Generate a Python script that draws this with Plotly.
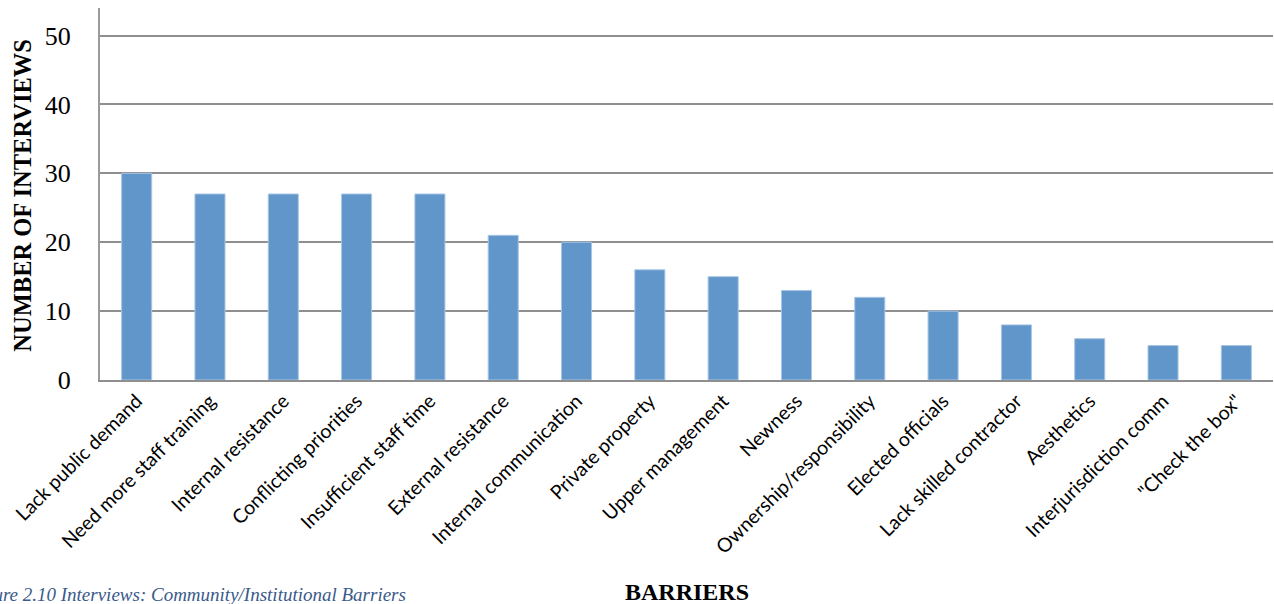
import plotly.graph_objects as go

# Barrier categories and interview counts
barriers = [
    "Lack public demand", "Need more staff training", "Internal resistance",
    "Conflicting priorities", "Insufficient staff time", "External resistance",
    "Internal communication", "Private property", "Upper management", "Newness",
    "Ownership/responsibility", "Elected officials", "Lack skilled contractor",
    "Aesthetics", "Interjurisdiction comm", "\"Check the box\"",
]
interviews = [30, 27, 27, 27, 27, 21, 20, 16, 15, 13, 12, 10, 8, 6, 5, 5]
y_ticks = [0, 10, 20, 30, 40, 50]

serif = "Liberation Serif, DejaVu Serif, serif"
sans = "Lato, Open Sans, sans-serif"

fig = go.Figure(
    go.Bar(
        x=barriers,
        y=interviews,
        width=0.41,
        marker=dict(color="#6096c9", line=dict(color="#a9c6e6", width=1)),
    )
)

fig.update_layout(
    width=1274,
    height=604,
    margin=dict(l=100, r=1, t=8, b=224),
    paper_bgcolor="white",
    plot_bgcolor="white",
    showlegend=False,
    bargap=0.59,
)

fig.update_xaxes(
    tickangle=-45,
    tickfont=dict(family=sans, size=19.5, color="black"),
    showline=True,
    linecolor="#8f8f8f",
    linewidth=2,
    showgrid=False,
    ticks="",
)

fig.update_yaxes(
    range=[0, 54],
    tickvals=y_ticks,
    tickfont=dict(family=serif, size=26, color="black"),
    showline=True,
    linecolor="#9a9a9a",
    linewidth=2,
    showgrid=True,
    gridcolor="#8f8f8f",
    gridwidth=2,
    zeroline=False,
    ticks="outside",
    ticklen=22,
    tickcolor="rgba(0,0,0,0)",
)

# Axis titles and caption
fig.add_annotation(
    text="<b>NUMBER OF INTERVIEWS</b>", xref="paper", yref="paper",
    x=-0.066, y=0.497, textangle=-90, showarrow=False,
    font=dict(family=serif, size=24.5, color="black"),
    xanchor="center", yanchor="middle",
)
fig.add_annotation(
    text="<b>BARRIERS</b>", xref="paper", yref="paper",
    x=0.5, y=-0.570, showarrow=False,
    font=dict(family=serif, size=24, color="black"),
    xanchor="center", yanchor="middle",
)
fig.add_annotation(
    text="<i>Figure 2.10 Interviews: Community/Institutional Barriers</i>",
    xref="paper", yref="paper",
    x=0.2626, y=-0.577, showarrow=False,
    font=dict(family=serif, size=19, color="#3b5a8a"),
    xanchor="right", yanchor="middle",
)

fig.write_html("out.html")
